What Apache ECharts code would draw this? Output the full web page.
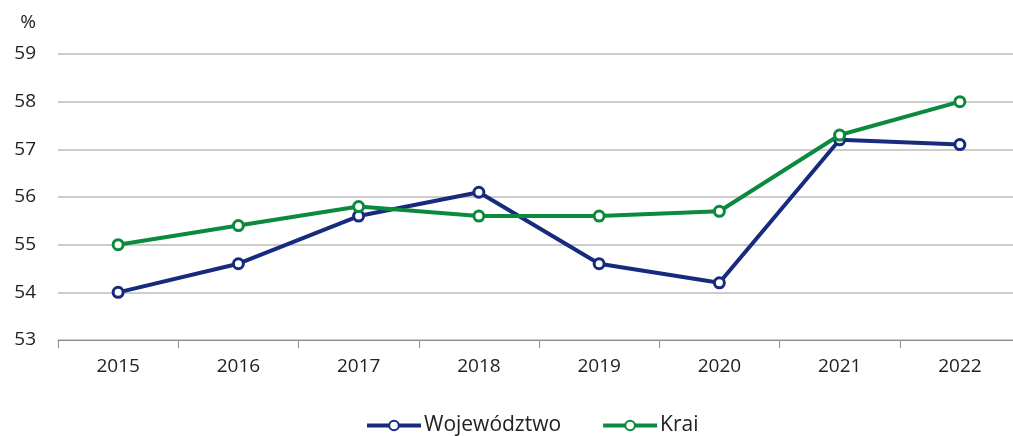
<!DOCTYPE html>
<html>
<head>
<meta charset="utf-8">
<script src="https://cdn.jsdelivr.net/npm/echarts@6/dist/echarts.min.js"></script>
<style>
html,body{margin:0;padding:0;background:#fff;overflow:hidden}
#chart{width:1021px;height:436px}
</style>
</head>
<body>
<div id="chart"></div>
<script>
var years = ['2015','2016','2017','2018','2019','2020','2021','2022']
var wojewodztwo = [54.0, 54.6, 55.6, 56.1, 54.6, 54.2, 57.2, 57.1]
var krai = [55.0, 55.4, 55.8, 55.6, 55.6, 55.7, 57.3, 58.0]

var font = 'Open Sans'
var chart = echarts.init(document.getElementById('chart'))

function lineSeries(name, data, color){
    return {
        name: name,
        type: 'line',
        data: data,
        symbol: 'circle',
        symbolSize: 10,
        showSymbol: true,
        lineStyle: {width: 4, color: color},
        itemStyle: {color: '#fff', borderColor: color, borderWidth: 3},
        z: name == 'Krai' ? 3 : 2
    }
}

chart.setOption({
    animation: false,
    textStyle: {fontFamily: font},
    grid: {left: 58, right: 1, top: 54, bottom: 96},
    legend: {
        bottom: -5,
        left: 360,
        itemWidth: 54,
        itemHeight: 12,
        itemGap: 40,
        lineStyle: {width: 4},
        textStyle: {fontFamily: font, fontSize: 21, color: '#222', padding: [0, 0, 0, -2]},
        data: ['Województwo', 'Krai']
    },
    xAxis: {
        type: 'category',
        data: years,
        boundaryGap: true,
        axisLine: {lineStyle: {color: '#8c8c8c', width: 1}},
        axisTick: {show: true, length: 8, lineStyle: {color: '#8c8c8c'}},
        axisLabel: {fontSize: 19, color: '#222', margin: 17, fontFamily: font}
    },
    yAxis: {
        type: 'value',
        min: 53,
        max: 59,
        interval: 1,
        name: '%',
        nameLocation: 'end',
        nameGap: 22,
        nameTextStyle: {fontSize: 19, color: '#222', fontFamily: font, align: 'right', padding: [0, 22, 0, 0]},
        axisLine: {show: false},
        axisTick: {show: false},
        axisLabel: {fontSize: 19, color: '#222', margin: 22, fontFamily: font},
        splitLine: {lineStyle: {color: '#bdbdbd', width: 1.5}}
    },
    series: [
        lineSeries('Województwo', wojewodztwo, '#162a7e'),
        lineSeries('Krai', krai, '#0b8a3e')
    ]
})
</script>
</body>
</html>
